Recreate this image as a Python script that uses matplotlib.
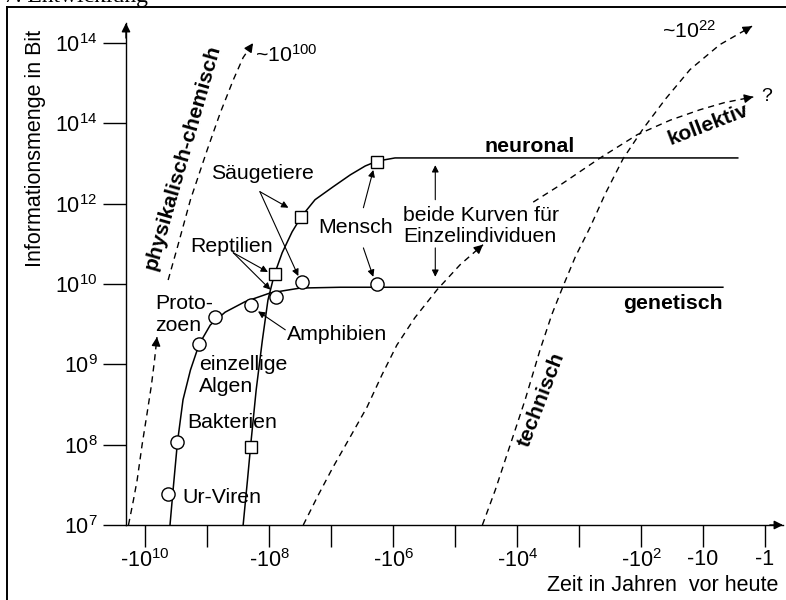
import matplotlib
matplotlib.use('Agg')
import matplotlib.pyplot as plt

plt.rcParams['font.family'] = ['Liberation Sans', 'DejaVu Sans']
plt.rcParams['mathtext.fontset'] = 'custom'
plt.rcParams['mathtext.rm'] = 'Liberation Sans'
plt.rcParams['mathtext.it'] = 'Liberation Sans:italic'
plt.rcParams['mathtext.bf'] = 'Liberation Sans:bold'

# x: exponent of the years before today (-10 -> -10^10 years, 0 -> -1 year)
# y: tick level on the information axis (0 -> 10^7 ... 6 -> top tick)
y_ticks = [0, 1, 2, 3, 4, 5, 6]
y_tick_labels = ['$10^7$', '$10^8$', '$10^9$', '$10^{10}$', '$10^{12}$', '$10^{14}$', '$10^{14}$']
x_ticks = [-10, -9, -8, -7, -6, -5, -4, -3, -2, -1, 0]
x_tick_labels = ['-$10^{10}$', '', '-$10^8$', '', '-$10^6$', '', '-$10^4$', '', '-$10^2$', '-10', '-1']

# genetic information (solid curve)
gen_x = [-9.60, -9.55, -9.48, -9.39, -9.27, -9.13, -8.95, -8.71, -8.39, -7.98, -7.50, -6.85, -0.68]
gen_y = [0.00, 0.44, 1.03, 1.56, 1.93, 2.25, 2.49, 2.65, 2.78, 2.89, 2.95, 2.96, 2.96]

# neuronal information (solid curve)
neu_x = [-8.42, -8.35, -8.29, -8.21, -8.11, -8.02, -7.92, -7.79, -7.63, -7.48, -7.26, -6.97,
         -6.69, -6.45, -6.26, -5.97, -0.44]
neu_y = [0.00, 0.56, 1.06, 1.68, 2.30, 2.80, 3.11, 3.39, 3.65, 3.84, 4.05, 4.21,
         4.36, 4.47, 4.53, 4.57, 4.57]

# organisms on the curves
circle_x = [-9.63, -9.48, -9.13, -8.87, -8.29, -7.89, -7.47, -6.26]
circle_y = [0.39, 1.03, 2.25, 2.59, 2.74, 2.84, 3.03, 3.00]
square_x = [-8.29, -7.90, -7.48, -6.26]
square_y = [0.97, 3.13, 3.84, 4.52]

# physikalisch-chemisch (dashed, two pieces)
phys1_x = [-10.27, -10.19, -10.13, -10.05, -9.97, -9.90, -9.85, -9.81]
phys1_y = [0.00, 0.31, 0.56, 1.00, 1.39, 1.74, 2.05, 2.34]
phys2_x = [-9.63, -9.48, -9.27, -9.00, -8.79, -8.58, -8.42, -8.26]
phys2_y = [3.05, 3.46, 4.05, 4.67, 5.13, 5.54, 5.82, 6.00]

# kollektiv (dashed, two pieces)
koll1_x = [-7.45, -7.21, -6.97, -6.69, -6.42, -6.18, -5.94, -5.65, -5.29, -4.92, -4.55]
koll1_y = [0.00, 0.37, 0.72, 1.10, 1.47, 1.87, 2.24, 2.58, 2.93, 3.24, 3.49]
koll2_x = [-3.74, -3.31, -2.66, -2.06, -1.53, -1.05, -0.65, -0.19]
koll2_y = [4.02, 4.23, 4.57, 4.86, 5.04, 5.17, 5.26, 5.33]

# technisch (dashed)
tech_x = [-4.56, -4.35, -4.11, -3.87, -3.63, -3.44, -3.26, -3.06, -2.82, -2.58, -2.29, -1.97,
          -1.61, -1.21, -0.73, -0.21]
tech_y = [0.00, 0.44, 1.00, 1.56, 2.18, 2.62, 2.97, 3.34, 3.71, 4.12, 4.56, 4.93,
          5.30, 5.67, 5.98, 6.21]

fig = plt.figure(figsize=(7.86, 6.0), dpi=100)
ax = fig.add_axes([126 / 786, 1 - 525 / 600, (783 - 126) / 786, (525 - 23) / 600])
ax.set_xlim(-10.31, 0.29)
ax.set_ylim(0, 6.25)
ax.patch.set_alpha(0)

for side in ['top', 'right']:
    ax.spines[side].set_visible(False)
for side in ['left', 'bottom']:
    ax.spines[side].set_linewidth(1.0)

fs = 15.3
ax.set_yticks(y_ticks, y_tick_labels, fontsize=15.5)
ax.set_xticks(x_ticks, x_tick_labels, fontsize=15.5)
ax.tick_params(axis='y', direction='out', length=16.5, width=1.0, pad=4)
ax.tick_params(axis='x', direction='out', length=16, width=1.0, pad=1)

# axis arrows
arr = dict(arrowstyle='-|>', color='black', lw=1.0, mutation_scale=13, shrinkA=0, shrinkB=0)
ax.annotate('', xy=(1, 0), xytext=(0.98, 0), xycoords='axes fraction', arrowprops=arr)
ax.annotate('', xy=(0, 1), xytext=(0, 0.97), xycoords='axes fraction', arrowprops=arr)

ax.text(-11.77, 4.69, 'Informationsmenge in Bit', rotation=90, fontsize=15.5,
        ha='center', va='center')
ax.text(0.21, -0.75, 'Zeit in Jahren  vor heute', fontsize=15.5, ha='right', va='center')

# solid curves with markers
ax.plot(gen_x, gen_y, color='black', lw=1.1)
ax.plot(neu_x, neu_y, color='black', lw=1.1)
ax.plot(circle_x, circle_y, 'o', ms=9.5, mfc='white', mec='black', mew=1.0)
ax.plot(square_x, square_y, 's', ms=9, mfc='white', mec='black', mew=1.0)


def dashed(xs, ys, arrow=True):
    ax.plot(xs, ys, color='black', lw=1.0, ls=(0, (4.5, 3.5)))
    if arrow:
        x0, y0 = xs[-1], ys[-1]
        x1, y1 = xs[-2], ys[-2]
        ax.annotate('', xy=(x0, y0), xytext=(x0 + 0.25 * (x1 - x0), y0 + 0.25 * (y1 - y0)),
                    arrowprops=dict(arrowstyle='-|>', color='black', lw=1.0,
                                    mutation_scale=13, shrinkA=0, shrinkB=0))


dashed(phys1_x, phys1_y)
dashed(phys2_x, phys2_y)
dashed(koll1_x, koll1_y)
dashed(koll2_x, koll2_y)
dashed(tech_x, tech_y)

thin = dict(arrowstyle='-|>', color='black', lw=0.8, mutation_scale=10, shrinkA=0, shrinkB=0)

# labels
ax.text(-8.11, 4.38, 'Säugetiere', fontsize=fs, ha='center', va='center')
ax.annotate('', xy=(-7.69, 3.95), xytext=(-8.15, 4.15), arrowprops=thin)
ax.annotate('', xy=(-7.53, 3.10), xytext=(-8.15, 4.15), arrowprops=thin)

ax.text(-8.61, 3.47, 'Reptilien', fontsize=fs, ha='center', va='center')
ax.annotate('', xy=(-8.02, 3.15), xytext=(-8.58, 3.39), arrowprops=thin)
ax.annotate('', xy=(-7.98, 2.93), xytext=(-8.58, 3.39), arrowprops=thin)

ax.text(-6.60, 3.70, 'Mensch', fontsize=fs, ha='center', va='center')
ax.annotate('', xy=(-6.32, 4.42), xytext=(-6.48, 3.95), arrowprops=thin)
ax.annotate('', xy=(-6.32, 3.09), xytext=(-6.48, 3.45), arrowprops=thin)

ax.text(-7.71, 2.37, 'Amphibien', fontsize=fs, ha='left', va='center')
ax.annotate('', xy=(-8.18, 2.66), xytext=(-7.74, 2.43), arrowprops=thin)

ax.text(-9.84, 2.62, 'Proto-\nzoen', fontsize=fs, ha='left', va='center', linespacing=1.15)
ax.text(-9.13, 1.86, 'einzellige\nAlgen', fontsize=fs, ha='left', va='center', linespacing=1.15)
ax.text(-9.32, 1.27, 'Bakterien', fontsize=fs, ha='left', va='center')
ax.text(-9.40, 0.34, 'Ur-Viren', fontsize=fs, ha='left', va='center')

ax.text(-5.84, 3.72, 'beide Kurven für\nEinzelindividuen', fontsize=fs, ha='left',
        va='center', linespacing=1.15)
ax.annotate('', xy=(-5.32, 4.48), xytext=(-5.32, 4.05), arrowprops=thin)
ax.annotate('', xy=(-5.32, 3.09), xytext=(-5.32, 3.45), arrowprops=thin)

ax.text(-3.79, 4.71, 'neuronal', fontsize=fs, fontweight='bold', ha='center', va='center')
ax.text(-0.68, 2.76, 'genetisch', fontsize=fs, fontweight='bold', ha='right', va='center')

ax.text(-9.40, 4.58, 'physikalisch-chemisch', fontsize=fs, fontweight='bold', rotation=74,
        ha='center', va='center')
ax.text(-3.61, 1.56, 'technisch', fontsize=fs, fontweight='bold', rotation=69,
        ha='center', va='center')
ax.text(-0.92, 4.99, 'kollektiv', fontsize=fs, fontweight='bold', rotation=21,
        ha='center', va='center')
ax.text(0.03, 5.34, '?', fontsize=14, ha='center', va='center')

ax.text(-8.23, 5.77, '~$10^{100}$', fontsize=fs, ha='left', va='baseline')
ax.text(-1.66, 6.06, '~$10^{22}$', fontsize=fs, ha='left', va='baseline')

# frame around the figure and cut-off heading
fig.add_artist(plt.Line2D([7 / 786, 7 / 786], [-0.1, 1 - 7 / 600], color='black', lw=1.4))
fig.add_artist(plt.Line2D([7 / 786, 1.1], [1 - 7 / 600, 1 - 7 / 600], color='black', lw=1.4))
fig.text(4 / 786, 1 - 2 / 600, '7. Entwicklung', fontsize=17, family='Liberation Serif',
         ha='left', va='baseline')

fig.savefig('out.png', dpi=100)
